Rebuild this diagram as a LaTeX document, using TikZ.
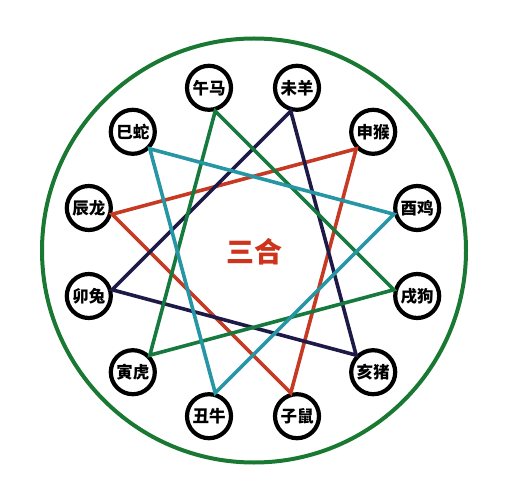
\documentclass[tikz,border=0pt]{standalone}
\usepackage{fontspec}
\newfontfamily\cjk{Noto Sans CJK SC}
\usetikzlibrary{positioning}

\definecolor{ringgreen}{RGB}{25,120,50}
\definecolor{shuired}{RGB}{198,58,36}
\definecolor{munavy}{RGB}{30,26,72}
\definecolor{huogreen}{RGB}{22,122,62}
\definecolor{jinteal}{RGB}{38,150,165}
\definecolor{titlered}{RGB}{204,52,28}

\begin{document}
\begin{tikzpicture}[
    x=1pt, y=1pt,
    every node/.style={font=\cjk\bfseries},
    sign/.style={draw, circle, line width=4.2pt, minimum size=44pt, inner sep=0pt, font=\cjk\bfseries\fontsize{16.5}{16.5}\selectfont},
    link/.style={line width=3.6pt, line join=miter}
]
\useasboundingbox (-253,-248) rectangle (257,252);

% 外圈
\draw[ringgreen, line width=4pt] (1,1.5) circle (212);

% 十二地支
\node[sign] (wu)   at (105:170pt)  {午马};
\node[sign] (wei)  at (75:170pt)   {未羊};
\node[sign] (shen) at (45:170pt)   {申猴};
\node[sign] (you)  at (15:170pt)   {酉鸡};
\node[sign] (xu)   at (-15:170pt)  {戌狗};
\node[sign] (hai)  at (-45:170pt)  {亥猪};
\node[sign] (zi)   at (-75:170pt)  {子鼠};
\node[sign] (chou) at (-105:170pt) {丑牛};
\node[sign] (yin)  at (-135:170pt) {寅虎};
\node[sign] (mao)  at (-165:170pt) {卯兔};
\node[sign] (chen) at (165:170pt)  {辰龙};
\node[sign] (si)   at (135:170pt)  {巳蛇};

% 中间标题
\node[titlered, font=\cjk\bfseries\fontsize{28}{28}\selectfont] (title) at (1,0) {三合};

% 三合连线
% 申子辰
\draw[link, shuired] (shen.225) -- (zi.105) -- (chen.-15) -- cycle;
% 亥卯未
\draw[link, munavy] (hai.135) -- (mao.15) -- (wei.-105) -- cycle;
% 寅午戌
\draw[link, huogreen] (yin.45) -- (wu.-75) -- (xu.165) -- cycle;
% 巳酉丑
\draw[link, jinteal] (si.-45) -- (you.195) -- (chou.75) -- cycle;

\end{tikzpicture}
\end{document}
